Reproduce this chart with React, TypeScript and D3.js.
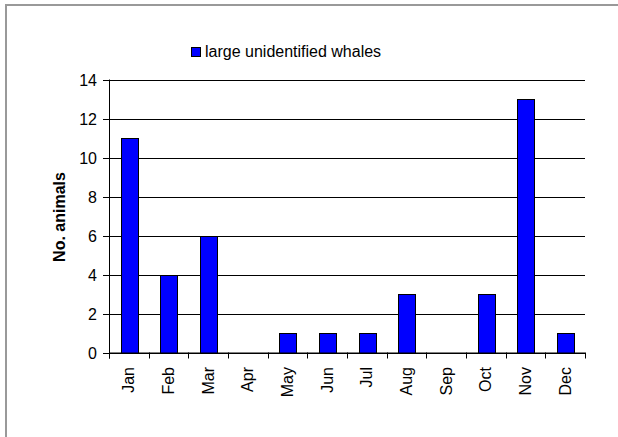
import React from "react";
import * as d3 from "d3";

const months = ["Jan", "Feb", "Mar", "Apr", "May", "Jun", "Jul", "Aug", "Sep", "Oct", "Nov", "Dec"];
const whales = [11, 4, 6, 0, 1, 1, 1, 3, 0, 3, 13, 1];
const yTicks = [0, 2, 4, 6, 8, 10, 12, 14];
const seriesName = "large unidentified whales";
const yTitle = "No. animals";

const W = 618;
const H = 437;
const left = 109;
const right = 585;
const top = 79.5;
const bottom = 352.5;
const font = "Arial, 'Liberation Sans', sans-serif";

export default function App() {
  const x = d3.scaleBand<string>().domain(months).range([left, right]).padding(0);
  const y = d3.scaleLinear().domain([0, 14]).range([bottom, top]);
  const bw = x.bandwidth() * 0.42;

  return (
    <div style={{ position: "fixed", left: 0, top: 0, background: "#fff" }}>
      <svg width={W} height={H} style={{ display: "block", fontFamily: font }}>
        <rect x={0} y={0} width={W} height={H} fill="#fff" />
        <rect x={5} y={4} width={W - 5} height={2} fill="#999" />
        <rect x={5} y={4} width={2} height={H - 4} fill="#999" />

        {/* gridlines */}
        {yTicks.map((t) => (
          <line key={"g" + t} x1={left - 6} x2={t === 0 ? right : right} y1={Math.round(y(t)) + 0.5} y2={Math.round(y(t)) + 0.5} stroke="#000" strokeWidth={1} />
        ))}
        {/* y labels */}
        {yTicks.map((t) => (
          <text key={"yl" + t} x={97} y={Math.round(y(t)) + 0.5} dy="0.35em" textAnchor="end" fontSize={16} fill="#000">
            {t}
          </text>
        ))}
        {/* bars */}
        {months.map((m, i) => {
          const v = whales[i];
          if (v === 0) return null;
          const cx = (x(m) as number) + x.bandwidth() / 2;
          const x0 = Math.round(cx - bw / 2) + 0.5;
          const yt = Math.round(y(v)) + 0.5;
          const yb = Math.round(y(0)) + 0.5;
          return <rect key={m} x={x0} y={yt} width={Math.round(bw)} height={yb - yt} fill="#0000ff" stroke="#000" strokeWidth={1} />;
        })}
        {/* axes */}
        <line x1={left + 0.5} x2={left + 0.5} y1={top} y2={bottom + 6} stroke="#000" />
        <line x1={left} x2={right} y1={bottom + 0.5} y2={bottom + 0.5} stroke="#000" />
        {months.concat(["end"]).map((m, i) => {
          const xx = Math.round(left + i * x.step()) + 0.5;
          return <line key={"t" + i} x1={xx} x2={xx} y1={bottom} y2={bottom + 6} stroke="#000" />;
        })}
        {/* x labels */}
        {months.map((m) => {
          const cx = (x(m) as number) + x.bandwidth() / 2;
          return (
            <text key={"xl" + m} transform={`translate(${cx},367) rotate(-90)`} dy="0.35em" textAnchor="end" fontSize={16} fill="#000">
              {m}
            </text>
          );
        })}
        {/* y title */}
        <text transform="translate(59,217) rotate(-90)" dy="0.35em" textAnchor="middle" fontSize={16} fontWeight="bold" fill="#000">
          {yTitle}
        </text>
        {/* legend */}
        <rect x={191.5} y={47.5} width={9} height={9} fill="#0000ff" stroke="#000" />
        <text x={205} y={57} fontSize={16} fill="#000">
          {seriesName}
        </text>
      </svg>
    </div>
  );
}
